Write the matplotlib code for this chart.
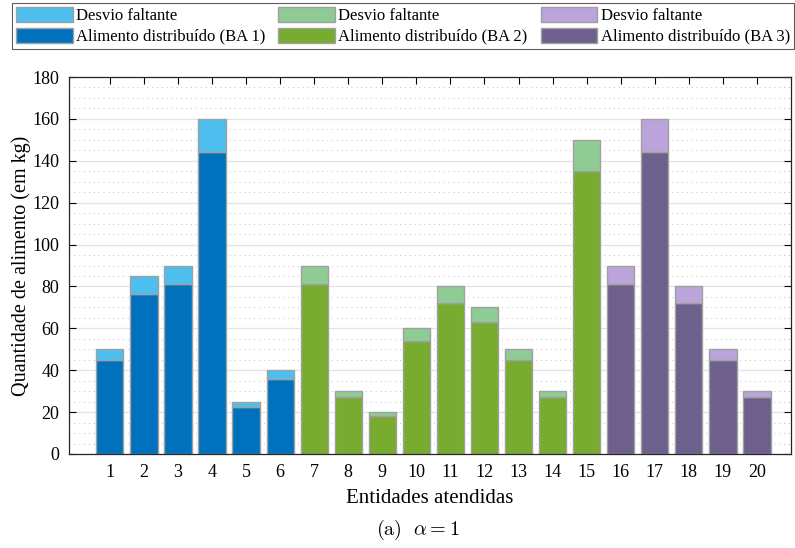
import numpy as np
import matplotlib
matplotlib.use("Agg")
import matplotlib.pyplot as plt
from matplotlib.patches import Patch

entities = list(range(1, 21))
totals = [50, 85, 90, 160, 25, 40, 90, 30, 20, 60, 80, 70, 50, 30, 150, 90, 160, 80, 50, 30]
distributed = [45, 76.5, 81, 144, 22.5, 36, 81, 27, 18, 54, 72, 63, 45, 27, 135, 81, 144, 72, 45, 27]
group = [1, 1, 1, 1, 1, 1, 2, 2, 2, 2, 2, 2, 2, 2, 2, 3, 3, 3, 3, 3]

dark = {1: "#0072BD", 2: "#77AC30", 3: "#6E608C"}
light = {1: "#4DBEEE", 2: "#8FCB94", 3: "#BBA4D9"}

plt.rcParams['font.family'] = ['Liberation Serif', 'DejaVu Serif']
plt.rcParams['mathtext.fontset'] = 'cm'

fig = plt.figure(figsize=(7.95, 5.48), dpi=100)
ax = fig.add_axes([69/795, 1-454/548, (791-69)/795, (454-77)/548])

x = np.array(entities)
dist = np.array(distributed)
tot = np.array(totals)
missing = tot - dist
cd = [dark[g] for g in group]
cl = [light[g] for g in group]

ax.bar(x, dist, width=0.8, color=cd, edgecolor="#a0a0a0", linewidth=1.0, zorder=2)
ax.bar(x, missing, bottom=dist, width=0.8, color=cl, edgecolor="#a0a0a0", linewidth=1.0, zorder=2)

ax.set_xlim(-0.2, 21)
ax.set_ylim(0, 180)
ax.set_xticks(entities)
ax.set_yticks(np.arange(0, 181, 20))

# grid
for yv in np.arange(0, 181, 5):
    if yv % 20 == 0:
        ax.axhline(yv, color="#e3e3e3", lw=0.9, zorder=0)
    else:
        ax.axhline(yv, color="#c0c0c0", lw=0.7, ls=(0, (1, 4)), zorder=0)

ax.tick_params(direction='in', top=True, right=True, length=5, width=0.8, labelsize=13, pad=7)
for s in ax.spines.values():
    s.set_linewidth(0.9)
    s.set_color("#262626")

ax.set_ylabel("Quantidade de alimento (em kg)", fontsize=14.5, labelpad=1)
ax.set_xlabel("Entidades atendidas", fontsize=15, labelpad=6)

handles = [
    Patch(facecolor=light[1], edgecolor="#a0a0a0", label="Desvio faltante"),
    Patch(facecolor=dark[1], edgecolor="#a0a0a0", label="Alimento distribuído (BA 1)"),
    Patch(facecolor=light[2], edgecolor="#a0a0a0", label="Desvio faltante"),
    Patch(facecolor=dark[2], edgecolor="#a0a0a0", label="Alimento distribuído (BA 2)"),
    Patch(facecolor=light[3], edgecolor="#a0a0a0", label="Desvio faltante"),
    Patch(facecolor=dark[3], edgecolor="#a0a0a0", label="Alimento distribuído (BA 3)"),
]
leg = fig.legend(handles=handles, ncol=3, loc="upper left",
                 bbox_to_anchor=(12/795, 1-3/548, (794-12)/795, 0), bbox_transform=fig.transFigure,
                 mode="expand", fontsize=12, handlelength=3.4, handleheight=1.0,
                 labelspacing=0.2, handletextpad=0.2, columnspacing=0.8,
                 borderpad=0.25, borderaxespad=0, frameon=True, fancybox=False)
leg.get_frame().set_edgecolor("#333333")
leg.get_frame().set_linewidth(0.8)

fig.text(418/795, 1-530/548, r"$\mathrm{(a)}\ \ \alpha = 1$", ha="center", va="center", fontsize=14.5)

fig.savefig("out.png", dpi=100)
